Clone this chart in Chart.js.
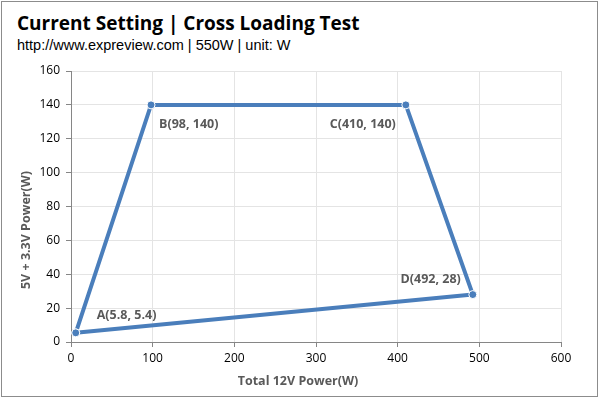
<!DOCTYPE html>
<html>
<head>
<meta charset="utf-8">
<script src="https://cdn.jsdelivr.net/npm/chart.js@4/dist/chart.umd.min.js"></script>
<style>
  body { margin: 0; background: #fff; }
  #wrap { position: relative; width: 600px; height: 399px; }
  #frame { position: absolute; left: 1px; top: 1px; width: 595px; height: 394px; border: 1px solid #8c8c8c; }
  #titulo { position: absolute; left: 17px; top: 10px; font: bold 19px "Open Sans", sans-serif; color: #000; white-space: nowrap; }
  #subtitulo { position: absolute; left: 17px; top: 37px; font: 14.5px "Liberation Sans", Arial, sans-serif; color: #000; white-space: nowrap; }
  canvas { position: absolute; left: 0; top: 0; }
</style>
</head>
<body>
<div id="wrap">
  <div id="frame"></div>
  <div id="titulo">Current Setting | Cross Loading Test</div>
  <div id="subtitulo">http://www.expreview.com | 550W | unit: W</div>
  <canvas id="grafica" width="600" height="399"></canvas>
</div>
<script>
// datos
const nombres = ['A', 'B', 'C', 'D']
const potencia12V = [5.8, 98, 410, 492]
const potencia5V = [5.4, 140, 140, 28]
const ticksX = [0, 100, 200, 300, 400, 500, 600]
const ticksY = [0, 20, 40, 60, 80, 100, 120, 140, 160]
const tituloX = 'Total 12V Power(W)'
const tituloY = '5V + 3.3V Power(W)'

// desplazamiento de cada etiqueta respecto a su punto (px)
const etiquetaPos = [
  { dx: 21, dy: -17, align: 'left' },
  { dx: 8, dy: 20, align: 'left' },
  { dx: -10, dy: 20, align: 'right' },
  { dx: -12, dy: -15, align: 'right' }
]

var puntos = nombres.map((n, i) => ({ x: potencia12V[i], y: potencia5V[i] }))
puntos.push(puntos[0]) // cerrar el poligono

var etiquetas = {
  id: 'etiquetas',
  afterDatasetsDraw(chart) {
    var ctx = chart.ctx
    var sx = chart.scales.x
    var sy = chart.scales.y
    ctx.save()
    ctx.font = 'bold 12.5px "Open Sans", sans-serif'
    ctx.fillStyle = '#595959'
    ctx.textBaseline = 'middle'
    nombres.forEach((n, i) => {
      var px = sx.getPixelForValue(potencia12V[i])
      var py = sy.getPixelForValue(potencia5V[i])
      var p = etiquetaPos[i]
      ctx.textAlign = p.align
      ctx.fillText(`${n}(${potencia12V[i]}, ${potencia5V[i]})`, px + p.dx, py + p.dy)
    })
    // titulos de ejes (centrados como en el original)
    ctx.font = 'bold 12.5px "Open Sans", sans-serif'
    ctx.textAlign = 'center'
    ctx.fillText(tituloX, chart.width / 2 - 2, 381)
    ctx.translate(26, 230)
    ctx.rotate(-Math.PI / 2)
    ctx.fillText(tituloY, 0, 0)
    ctx.restore()
  }
}

var graf = document.getElementById('grafica').getContext('2d')
var chart = new Chart(graf, {
  type: 'scatter',
  data: {
    datasets: [{
      data: puntos,
      showLine: true,
      borderColor: '#4a7ebb',
      borderWidth: 4,
      backgroundColor: '#4a7ebb',
      pointRadius: 4,
      pointBorderColor: '#ffffff',
      pointBorderWidth: 1
    }]
  },
  options: {
    responsive: false,
    animation: false,
    devicePixelRatio: 1,
    layout: { padding: { left: 17, right: 39, top: 71, bottom: 0 } },
    plugins: {
      legend: { display: false },
      tooltip: { enabled: false }
    },
    scales: {
      x: {
        type: 'linear',
        min: 0,
        max: 600,
        afterBuildTicks: (s) => { s.ticks = ticksX.map(v => ({ value: v })) },
        afterFit: (s) => { s.height = 57 },
        grid: { color: '#e4e4e4', tickColor: '#868686', tickLength: 5 },
        border: { color: '#868686' },
        ticks: { color: '#000', padding: 4, font: { family: 'Open Sans', size: 12 } }
      },
      y: {
        type: 'linear',
        min: 0,
        max: 160,
        afterBuildTicks: (s) => { s.ticks = ticksY.map(v => ({ value: v })) },
        afterFit: (s) => { s.width = 54 },
        grid: { color: '#e4e4e4', tickColor: '#868686', tickLength: 5 },
        border: { color: '#868686' },
        ticks: { color: '#000', padding: 6, font: { family: 'Open Sans', size: 12 } }
      }
    }
  },
  plugins: [etiquetas]
})
</script>
</body>
</html>
